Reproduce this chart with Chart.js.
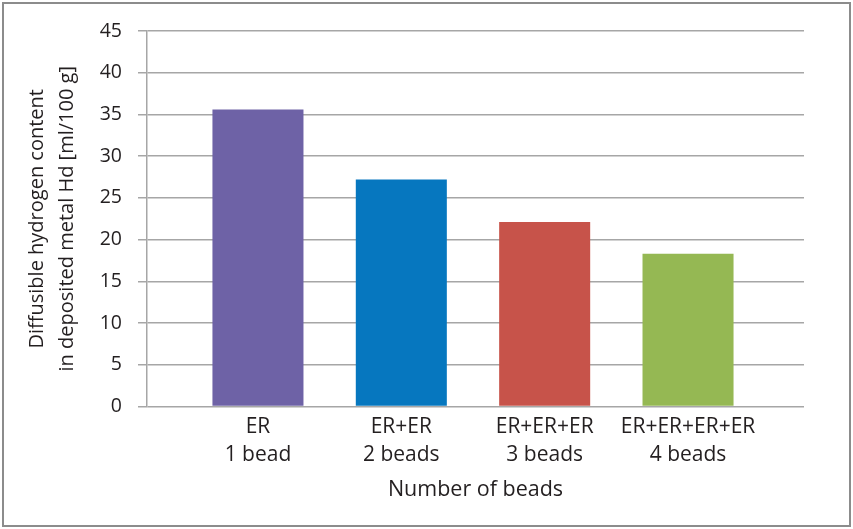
<!DOCTYPE html>
<html>
<head>
<meta charset="utf-8">
<script src="https://cdn.jsdelivr.net/npm/chart.js@4"></script>
<style>
  html, body { margin: 0; padding: 0; background: #fff; }
  #wrap { width: 853px; height: 529px; position: relative; }
</style>
</head>
<body>
<div id="wrap"><canvas id="chart"></canvas></div>
<script>
// Categories (two-line labels) and values
var categories = [
  ['ER', '1 bead'],
  ['ER+ER', '2 beads'],
  ['ER+ER+ER', '3 beads'],
  ['ER+ER+ER+ER', '4 beads']
];
var hydrogen = [35.6, 27.2, 22.1, 18.3];
var barColors = ['#6E62A6', '#0677BF', '#C7534A', '#95B853'];
var yTicks = [0, 5, 10, 15, 20, 25, 30, 35, 40, 45];
var yTitle = ['Diffusible hydrogen content', 'in deposited metal Hd [ml/100 g]'];
var xTitle = 'Number of beads';

var FONT = '"Open Sans", "Noto Sans", sans-serif';
var INK = '#231f20';
var GRID = '#a6a6a6';

// Bars sit at category index 0..3 on a linear x scale, so the plot can be
// wider than the span of the categories (as in the reference)
var points = hydrogen.map(function(v, i) { return { x: i, y: v }; });

// Grey frame round the whole picture
var framePlugin = {
  id: 'frame',
  afterDraw: function(chart) {
    var ctx = chart.ctx;
    ctx.save();
    ctx.strokeStyle = '#8c8c8c';
    ctx.lineWidth = 2;
    ctx.strokeRect(3, 3, chart.width - 6, chart.height - 6);
    ctx.restore();
  }
};

new Chart(document.getElementById('chart').getContext('2d'), {
  type: 'bar',
  data: {
    datasets: [{
      data: points,
      backgroundColor: barColors,
      borderWidth: 0,
      categoryPercentage: 1,
      barPercentage: 0.635
    }]
  },
  options: {
    responsive: true,
    maintainAspectRatio: false,
    animation: false,
    devicePixelRatio: 1,
    layout: { padding: { top: 31, right: 49, bottom: 26, left: 0 } },
    plugins: {
      legend: { display: false },
      tooltip: { enabled: false }
    },
    scales: {
      x: {
        type: 'linear',
        min: -0.774,
        max: 3.809,
        offset: false,
        grid: { display: false, drawTicks: false },
        border: { display: false },
        ticks: {
          stepSize: 1,
          includeBounds: false,
          autoSkip: false,
          maxRotation: 0,
          color: INK,
          font: { family: FONT, size: 21, lineHeight: 1.33 },
          padding: 7,
          callback: function(value) {
            return categories[value] || '';
          }
        },
        title: {
          display: true,
          text: xTitle,
          color: INK,
          font: { family: FONT, size: 21.5 },
          padding: { top: 0, bottom: 0 }
        },
        afterFit: function(scale) { scale.height = 96.5; }
      },
      y: {
        min: 0,
        max: 45,
        afterBuildTicks: function(scale) {
          scale.ticks = yTicks.map(function(v) { return { value: v }; });
        },
        ticks: {
          color: INK,
          font: { family: FONT, size: 19.5 },
          padding: 16
        },
        grid: {
          color: GRID,
          lineWidth: 1.5,
          tickLength: 9
        },
        border: { display: true, color: GRID, width: 1.5 },
        title: {
          display: true,
          text: yTitle,
          color: INK,
          font: { family: FONT, size: 20, lineHeight: 1.5 },
          padding: { top: 22 }
        },
        afterFit: function(scale) { scale.width = 147; }
      }
    }
  },
  plugins: [framePlugin]
});
</script>
</body>
</html>
